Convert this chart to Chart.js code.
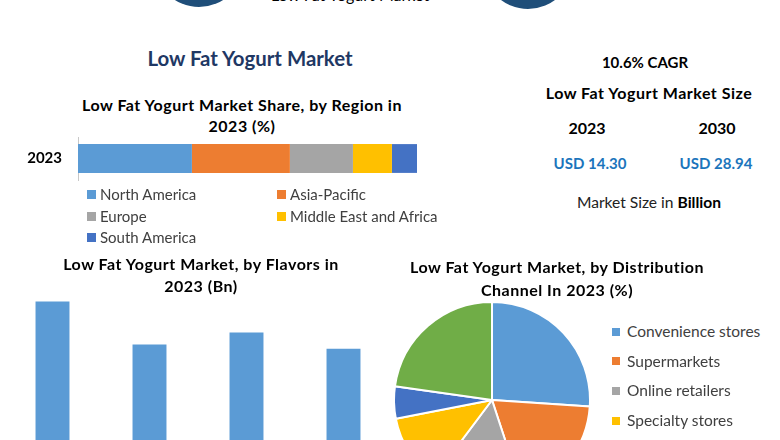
<!DOCTYPE html>
<html>
<head>
<meta charset="utf-8">
<script src="https://cdn.jsdelivr.net/npm/chart.js@4.4.1/dist/chart.umd.min.js"></script>
<style>
  html, body { margin: 0; padding: 0; }
  body { width: 780px; height: 440px; overflow: hidden; position: relative; background: #fff; font-family: Lato, "Open Sans", sans-serif; color: #000; }
  .t { position: absolute; text-align: center; white-space: nowrap; }
  .b { font-weight: 700; }
  .h { font-size: 16px; letter-spacing: 0.5px; }
  .dot { position: absolute; border-radius: 50%; background: #1f4e79; }
  canvas { position: absolute; }
  .lg { position: absolute; white-space: nowrap; color: #404040; }
  .lg i { display: inline-block; vertical-align: middle; margin-top: -3px; }
</style>
</head>
<body>

<!-- header strip, mostly cut off -->
<div class="dot" style="left:154px; top:-83px; width:90px; height:90px;"></div>
<div class="dot" style="left:483px; top:-81px; width:90px; height:90px;"></div>
<div class="t" style="left:250px; width:200px; top:-13px; font-size:16px; line-height:16px;">Low Fat Yogurt Market</div>

<div class="t b" style="left:100px; width:300px; top:46px; font-size:20.4px; line-height:24px; color:#1f3864;">Low Fat Yogurt Market</div>

<div class="t b h" style="left:42px; width:400px; top:94px; line-height:21px;">Low Fat Yogurt Market Share, by Region in<br>2023 (%)</div>
<canvas id="regionChart" width="420" height="93" style="left:0; top:112px;"></canvas>
<div id="regionLegend"></div>

<div class="t b" style="left:545px; width:200px; top:51px; font-size:15px; line-height:22px;">10.6% CAGR</div>
<div class="t b" style="left:499px; width:300px; top:82px; font-size:16px; letter-spacing:0.5px; line-height:22px;">Low Fat Yogurt Market Size</div>
<div class="t b" style="left:537px; width:100px; top:117px; font-size:16px; line-height:22px;">2023</div>
<div class="t b" style="left:667px; width:100px; top:117px; font-size:16px; line-height:22px;">2030</div>
<div class="t b" style="left:530px; width:120px; top:152px; font-size:15px; line-height:22px; color:#1b75bc;">USD 14.30</div>
<div class="t b" style="left:656px; width:120px; top:152px; font-size:15px; line-height:22px; color:#1b75bc;">USD 28.94</div>
<div class="t" style="left:549px; width:200px; top:191px; font-size:15.6px; line-height:22px; color:#222;">Market Size in <b style="color:#000">Billion</b></div>

<div class="t b h" style="left:1px; width:400px; top:253px; line-height:22px;">Low Fat Yogurt Market, by Flavors in<br>2023 (Bn)</div>
<canvas id="flavorChart" width="388" height="207" style="left:4px; top:273px;"></canvas>

<div class="t b h" style="left:357px; width:400px; top:255px; line-height:23px;">Low Fat Yogurt Market, by Distribution<br>Channel In 2023 (%)</div>
<canvas id="channelChart" width="198" height="198" style="left:393px; top:301px;"></canvas>
<div id="channelLegend"></div>

<script>
// Region share, 2023 (%)
const regionYears = ['2023'];
const regionLabels = ['North America', 'Asia-Pacific', 'Europe', 'Middle East and Africa', 'South America'];
const regionShare = [33.6, 28.9, 18.6, 11.5, 7.4];
const regionColors = ['#5b9bd5', '#ed7d31', '#a5a5a5', '#ffc000', '#4472c4'];

// Flavors, 2023 (Bn) - category names are cut off in the picture
const flavorLabels = ['Plain', 'Strawberry', 'Vanilla', 'Others'];
const flavorValues = [4.31, 3.27, 3.56, 3.17];

// Distribution channel, 2023 (%)
const channelLabels = ['Convenience stores', 'Supermarkets', 'Online retailers', 'Specialty stores', 'Hypermarkets', 'Others'];
const channelShare = [26.1, 18.9, 15.3, 11.7, 5.3, 22.8];
const channelColors = ['#5b9bd5', '#ed7d31', '#a5a5a5', '#ffc000', '#4472c4', '#70ad47'];

Chart.defaults.font.family = 'Lato, "Open Sans", sans-serif';
Chart.defaults.animation = false;
Chart.defaults.plugins.legend.display = false;
Chart.defaults.plugins.tooltip.enabled = false;

// Region
new Chart(document.getElementById('regionChart'), {
  type: 'bar',
  data: {
    labels: regionYears,
    datasets: regionLabels.map((name, i) => ({
      label: name,
      data: [regionShare[i]],
      backgroundColor: regionColors[i],
      barPercentage: 0.67,
      categoryPercentage: 1
    }))
  },
  options: {
    responsive: false,
    indexAxis: 'y',
    layout: { padding: { top: 25, bottom: 25, right: 3 } },
    scales: {
      x: { display: false, stacked: true, min: 0, max: 100 },
      y: {
        stacked: true,
        grid: { display: false },
        border: { display: true, color: '#c8c8c8' },
        ticks: { color: '#000', padding: 8, font: { size: 15, weight: 'bold' } },
        afterFit: (scale) => {
          scale.width = 78;
          scale.paddingTop = 0;
          scale.paddingBottom = 0;
        }
      }
    }
  }
});

// Flavors
new Chart(document.getElementById('flavorChart'), {
  type: 'bar',
  data: {
    labels: flavorLabels,
    datasets: [{
      data: flavorValues,
      backgroundColor: '#5b9bd5',
      barPercentage: 0.35,
      categoryPercentage: 1
    }]
  },
  options: {
    responsive: false,
    scales: {
      x: { display: false },
      y: { display: false, min: 0, max: 5 }
    }
  }
});

// Distribution channel
new Chart(document.getElementById('channelChart'), {
  type: 'pie',
  data: {
    labels: channelLabels,
    datasets: [{
      data: channelShare,
      backgroundColor: channelColors,
      borderColor: '#fff',
      borderWidth: 2
    }]
  },
  options: { responsive: false }
});

// legends
function legendItem(parent, text, color, x, y, size, box) {
  const d = document.createElement('div');
  d.className = 'lg';
  d.style.left = x + 'px';
  d.style.top = (y - 10) + 'px';
  d.style.fontSize = size + 'px';
  d.style.lineHeight = '20px';
  d.innerHTML = '<i style="width:' + box + 'px;height:' + box + 'px;background:' + color + ';margin-right:' + (size > 15 ? 7 : 4) + 'px"></i>' + text;
  parent.appendChild(d);
}
const rl = document.getElementById('regionLegend');
regionLabels.forEach((name, i) => {
  legendItem(rl, name, regionColors[i], i % 2 ? 277 : 87, 194 + Math.floor(i / 2) * 21.5, 15, 9);
});
const cl = document.getElementById('channelLegend');
channelLabels.forEach((name, i) => {
  legendItem(cl, name, channelColors[i], 612, 331 + i * 29.7, 15.5, 8);
});
</script>
</body>
</html>
